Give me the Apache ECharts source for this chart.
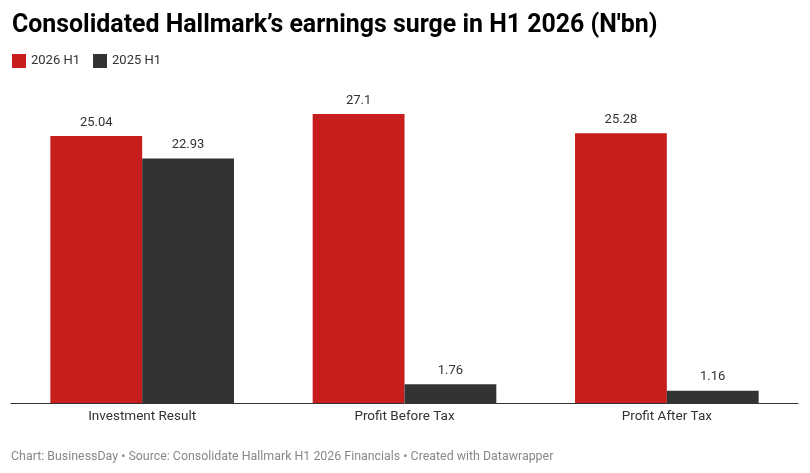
<!DOCTYPE html>
<html>
<head>
<meta charset="utf-8">
<script src="https://cdn.jsdelivr.net/npm/echarts@6/dist/echarts.min.js"></script>
<style>
  html, body { margin: 0; padding: 0; background: #fff; }
  #main { width: 810px; height: 473px; }
</style>
</head>
<body>
<div id="main"></div>
<script>
var categories = ['Investment Result', 'Profit Before Tax', 'Profit After Tax'];
var seriesNames = ['2026 H1', '2025 H1'];
var values2026 = [25.04, 27.1, 25.28];
var values2025 = [22.93, 1.76, 1.16];

var colors = ['#c71e1d', '#333333'];
var font = 'Roboto';

var myChart = echarts.init(document.getElementById('main'));

var barLabel = {
    show: true,
    position: 'top',
    distance: 7,
    color: '#333333',
    fontFamily: font,
    fontSize: 13
};

var option = {
    backgroundColor: '#ffffff',
    animation: false,
    textStyle: { fontFamily: font },
    title: [{
        text: "Consolidated Hallmark’s earnings surge in H1 2026 (N'bn)",
        left: 7,
        top: 8,
        textStyle: { fontFamily: font, fontSize: 24.9, fontWeight: 'bold', color: '#000000' }
    }, {
        text: 'Chart: BusinessDay • Source: Consolidate Hallmark H1 2026 Financials • Created with Datawrapper',
        left: 6,
        top: 446,
        textStyle: { fontFamily: font, fontSize: 12.4, fontWeight: 'normal', color: '#888888' }
    }],
    legend: {
        left: 7,
        top: 49,
        itemWidth: 14,
        itemHeight: 14,
        itemGap: 13,
        icon: 'rect',
        textStyle: { fontFamily: font, fontSize: 13, color: '#333333' },
        data: seriesNames
    },
    grid: { left: 11, right: 12, top: 83, bottom: 70 },
    xAxis: {
        type: 'category',
        data: categories,
        axisLine: { lineStyle: { color: '#333333', width: 1 } },
        axisTick: { show: false },
        axisLabel: { color: '#333333', fontFamily: font, fontSize: 13.5, margin: 7 }
    },
    yAxis: {
        type: 'value',
        min: 0,
        max: 30,
        show: false,
        splitLine: { show: false }
    },
    series: [{
        name: seriesNames[0],
        type: 'bar',
        data: values2026,
        barGap: '0%',
        barCategoryGap: '30%',
        itemStyle: { color: colors[0] },
        label: barLabel
    }, {
        name: seriesNames[1],
        type: 'bar',
        data: values2025,
        itemStyle: { color: colors[1] },
        label: barLabel
    }]
};

myChart.setOption(option);
</script>
</body>
</html>
